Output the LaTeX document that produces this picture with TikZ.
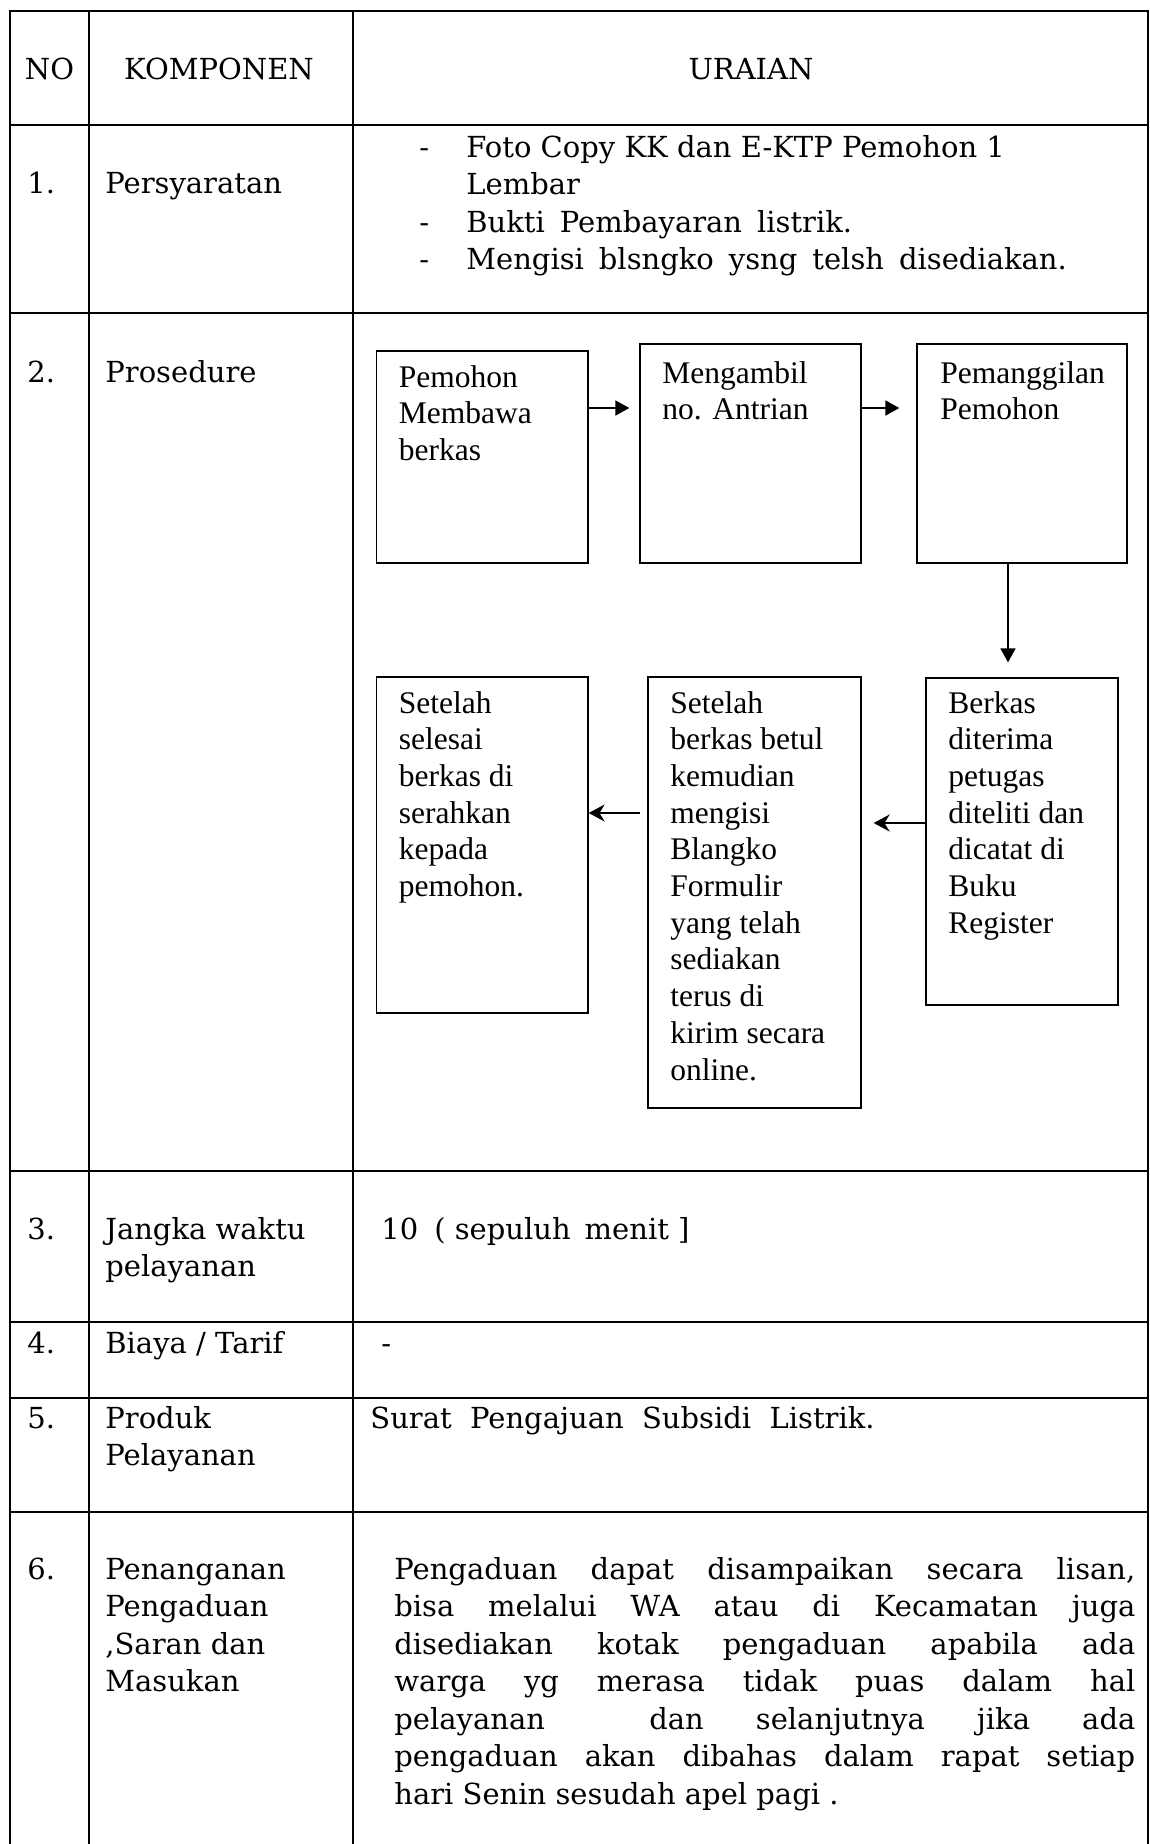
\documentclass[tikz,border=0pt]{standalone}
\usepackage{fontspec}
\setmainfont{DejaVu Serif}
\newfontfamily\tnr{Liberation Serif}
\usetikzlibrary{arrows.meta,fit}
\newcommand\jl[1]{\hbox to 370.5pt{#1}}
\newcommand\lns[1]{\parbox[t]{340pt}{\raggedright #1}}
\newcommand\ws{\hspace{7.5pt}}
\begin{document}
\begin{tikzpicture}[x=0.5pt,y=-0.5pt,
  tableline/.style={line width=1pt,line join=miter},
  cell/.style={anchor=base west,inner sep=0pt,font=\fontsize{14.5}{18.75}\selectfont},
  hcell/.style={anchor=base,inner sep=0pt,font=\fontsize{14.5}{18.75}\selectfont},
  procbox/.style={draw,line width=0.65pt,inner sep=0pt},
  boxtext/.style={anchor=base west,inner sep=0pt,font=\tnr\fontsize{15.75}{18.35}\selectfont},
  flowup/.style={line width=0.9pt,-{Triangle[width=7.5pt,length=7pt]}},
  flowlow/.style={line width=0.75pt,-{Stealth[width=8.5pt,length=8pt]}}
]
\useasboundingbox (0,0) rectangle (1150,1844);
% table grid
\draw[tableline] (10,1844) -- (10,11) -- (1148,11) -- (1148,1844);
\draw[tableline] (89,11) -- (89,1844);
\draw[tableline] (353,11) -- (353,1844);
\foreach \yy in {125,313,1171,1322,1398,1512} \draw[tableline] (10,\yy) -- (1148,\yy);
% header
\node[hcell] (hno) at (49.5,79) {NO};
\node[hcell] (hkomp) at (219,79) {KOMPONEN};
\node[hcell] (hur) at (751,79) {URAIAN};
% row 1
\node[cell] (n1) at (27,193) {1.};
\node[cell] (k1) at (105,193) {Persyaratan};
\node[cell] (d1a) at (419,157) {-};
\node[cell] (d1b) at (419,232) {-};
\node[cell] (d1c) at (419,269.5) {-};
\node[cell] (u1) at (466,157) {\lns{Foto Copy KK dan E-KTP Pemohon 1\\Lembar\\Bukti\ws Pembayaran\ws listrik.\\Mengisi\ws blsngko\ws ysng\ws telsh\ws disediakan.}};
% row 2
\node[cell] (n2) at (27,382) {2.};
\node[cell] (k2) at (105,382) {Prosedure};
\node[procbox,fit={(376.5,351)(588,563)}] (b1) {};
\node[procbox,fit={(640,344)(861,563)}] (b2) {};
\node[procbox,fit={(917,344)(1127,563)}] (b3) {};
\node[procbox,fit={(926,678)(1118,1005)}] (b4) {};
\node[procbox,fit={(648,677)(861,1108)}] (b5) {};
\node[procbox,fit={(376.5,677)(588,1013)}] (b6) {};
\node[boxtext] (t1) at (398.5,387) {\lns{Pemohon\\Membawa\\berkas}};
\node[boxtext] (t2) at (662,383) {\lns{Mengambil\\no. Antrian}};
\node[boxtext] (t3) at (940,383) {\lns{Pemanggilan\\Pemohon}};
\node[boxtext] (t4) at (948,713) {\lns{Berkas\\diterima\\petugas\\diteliti dan\\dicatat di\\Buku\\Register}};
\node[boxtext] (t5) at (670,713) {\lns{Setelah\\berkas betul\\kemudian\\mengisi\\Blangko\\Formulir\\yang telah\\sediakan\\terus di\\kirim secara\\online.}};
\node[boxtext] (t6) at (398.5,713) {\lns{Setelah\\selesai\\berkas di\\serahkan\\kepada\\pemohon.}};
\draw[flowup,shorten >=5pt] (b1.east |- 0,408) -- (b2.west |- 0,408);
\draw[flowup,shorten >=8.5pt] (b2.east |- 0,408) -- (b3.west |- 0,408);
\draw[flowup,shorten >=7.5pt] (b3.south -| 1008,0) -- (b4.north -| 1008,0);
\draw[flowlow,shorten >=6pt] (b4.west |- 0,823) -- (b5.east |- 0,823);
\draw[flowlow,shorten <=3.5pt] (b5.west |- 0,813) -- (b6.east |- 0,813);
% row 3
\node[cell] (n3) at (27,1239) {3.};
\node[cell] (k3) at (105,1239) {\lns{Jangka waktu\\pelayanan}};
\node[cell] (u3) at (381,1239) {10\hspace{8pt}( sepuluh\hspace{7pt}menit ]};
% row 4
\node[cell] (n4) at (27,1353) {4.};
\node[cell] (k4) at (105,1353) {Biaya / Tarif};
\node[cell] (u4) at (381,1353) {-};
% row 5
\node[cell] (n5) at (27,1428) {5.};
\node[cell] (k5) at (105,1428) {\lns{Produk\\Pelayanan}};
\node[cell] (u5) at (370,1428) {Surat\ \ Pengajuan\ \ Subsidi\ \ Listrik.};
% row 6
\node[cell] (n6) at (27,1579) {6.};
\node[cell] (k6) at (105,1579) {\lns{Penanganan\\Pengaduan\\,Saran dan\\Masukan}};
\node[cell] (u6) at (394,1579) {\parbox[t]{370.5pt}{%
\jl{Pengaduan\hfill dapat\hfill disampaikan\hfill secara\hfill lisan,}
\jl{bisa\hfill melalui\hfill WA\hfill atau\hfill di\hfill Kecamatan\hfill juga}
\jl{disediakan\hfill kotak\hfill pengaduan\hfill apabila\hfill ada}
\jl{warga\hfill yg\hfill merasa\hfill tidak\hfill puas\hfill dalam\hfill hal}
\jl{pelayanan\hfill\hfill dan\hfill selanjutnya\hfill jika\hfill ada}
\jl{pengaduan\hfill akan\hfill dibahas\hfill dalam\hfill rapat\hfill setiap}
\hbox{hari Senin sesudah apel pagi .}}};
\end{tikzpicture}
\end{document}
